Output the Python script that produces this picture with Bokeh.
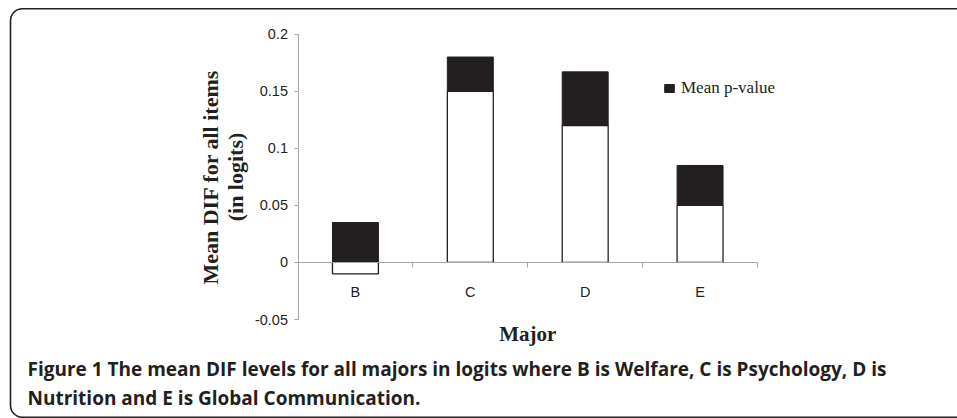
from math import pi
from bokeh.plotting import figure
from bokeh.models import (Range1d, FixedTicker, Label, Legend, LegendItem,
                          BoxAnnotation, ColumnDataSource)
from bokeh.embed import file_html
from bokeh.resources import INLINE

# ---- data ----
majors = ["B", "C", "D", "E"]
mean_dif = [-0.01, 0.15, 0.12, 0.05]          # white bars
mean_p = [0.035, 0.03, 0.047, 0.035]          # black bars (stacked)
y_ticks = [-0.05, 0, 0.05, 0.1, 0.15, 0.2]
y_tick_labels = ["-0.05", "0", "0.05", "0.1", "0.15", "0.2"]
legend_label = "Mean p-value"
y_title_1 = "Mean DIF for all items"
y_title_2 = "(in logits)"
x_title = "Major"
caption_1 = ("Figure 1 The mean DIF levels for all majors in logits where B is Welfare, "
             "C is Psychology, D is")
caption_2 = "Nutrition and E is Global Communication."

# stacking like a spreadsheet stacked column chart
x_pos = list(range(1, len(majors) + 1))
p_bottom = [max(d, 0) for d in mean_dif]
p_top = [b + v for b, v in zip(p_bottom, mean_p)]

src = ColumnDataSource(dict(x=x_pos, dif=mean_dif, pb=p_bottom, pt=p_top))

INK = "#231f20"
AXIS = "#a6a6a6"

# ---- layout (pixels on the canvas) ----
W, H = 957, 418
AX_LEFT, AX_RIGHT = 297.5, 757.0      # x = 0.5 ... 4.5
AX_TOP, AX_BOTTOM = 33.7, 319.0       # y = 0.2 ... -0.05
x0, x1 = 0.5, len(majors) + 0.5
y0, y1 = y_ticks[0], y_ticks[-1]
kx = (AX_RIGHT - AX_LEFT) / (x1 - x0)
ky = (AX_BOTTOM - AX_TOP) / (y1 - y0)
x_range = Range1d(x0 - AX_LEFT / kx, x1 + (W - AX_RIGHT) / kx)
y_range = Range1d(y0 - (H - AX_BOTTOM) / ky, y1 + AX_TOP / ky)

p = figure(width=W, height=H, x_range=x_range, y_range=y_range,
           output_backend="svg", toolbar_location=None)
p.min_border = 0
p.outline_line_color = None
p.grid.visible = False
p.background_fill_color = "white"
p.border_fill_color = "white"

white = p.vbar(x="x", width=0.4, bottom=0, top="dif", source=src,
               fill_color="white", line_color=INK, line_width=1.3)
black = p.vbar(x="x", width=0.4, bottom="pb", top="pt", source=src,
               fill_color=INK, line_color=INK, line_width=1)

# y axis (drawn at x = 0.5)
ya = p.yaxis[0]
ya.fixed_location = x0
ya.bounds = (y0, y1)
ya.ticker = FixedTicker(ticks=y_ticks)
ya.major_label_overrides = {t: l for t, l in zip(y_ticks, y_tick_labels)}
ya.axis_line_color = AXIS
ya.major_tick_line_color = AXIS
ya.major_tick_in = 0
ya.major_tick_out = 4
ya.minor_tick_line_color = None
ya.major_label_standoff = 6
ya.major_label_text_font = "Liberation Sans"
ya.major_label_text_font_size = "14.5px"
ya.major_label_text_color = INK

# x axis crossing at y = 0
xa = p.xaxis[0]
xa.fixed_location = 0
xa.bounds = (x0, x1)
xa.ticker = FixedTicker(ticks=x_pos,
                        minor_ticks=[x - 0.5 for x in x_pos] + [x_pos[-1] + 0.5])
xa.major_label_overrides = {x: m for x, m in zip(x_pos, majors)}
xa.axis_line_color = AXIS
xa.major_tick_line_color = None
xa.major_tick_in = 0
xa.major_tick_out = 0
xa.minor_tick_line_color = AXIS
xa.minor_tick_in = 0
xa.minor_tick_out = 5
xa.major_label_standoff = 17
xa.major_label_text_font = "Liberation Sans"
xa.major_label_text_font_size = "14.5px"
xa.major_label_text_color = INK

# legend
legend = Legend(items=[LegendItem(label=legend_label, renderers=[black])],
                location=(663, 320), glyph_width=12, glyph_height=10,
                label_standoff=6, label_text_font="Liberation Serif",
                label_text_font_size="17px", label_text_color=INK,
                border_line_color=None, background_fill_alpha=0,
                padding=0, margin=0, spacing=0)
p.add_layout(legend, "center")

# axis titles
for txt, sx in ((y_title_1, 210), (y_title_2, 235)):
    p.add_layout(Label(x=sx, x_units="canvas", y=176.5, y_units="canvas", text=txt,
                       angle=pi / 2, text_align="center", text_baseline="alphabetic",
                       text_font="Liberation Serif", text_font_style="bold",
                       text_font_size="22px", text_color=INK))
p.add_layout(Label(x=(x0 + x1) / 2, x_units="data", y=333, y_units="canvas",
                   text=x_title, text_align="center", text_baseline="alphabetic",
                   text_font="Liberation Serif", text_font_style="bold",
                   text_font_size="21px", text_color=INK))

# caption
for txt, sy in ((caption_1, 368), (caption_2, 397)):
    p.add_layout(Label(x=27, x_units="canvas", y=sy, y_units="canvas", text=txt,
                       text_align="left", text_baseline="alphabetic",
                       text_font="Open Sans", text_font_style="bold",
                       text_font_size="19px", text_color=INK))

# rounded frame around the figure panel (right side runs off the page)
p.add_layout(BoxAnnotation(left=10, right=1100, top=8.2, bottom=416.8,
                           left_units="canvas", right_units="canvas",
                           top_units="canvas", bottom_units="canvas",
                           fill_alpha=0, line_color=INK, line_alpha=1,
                           line_width=1.6, border_radius=12))

open("out.html", "w").write(file_html(p, INLINE))
